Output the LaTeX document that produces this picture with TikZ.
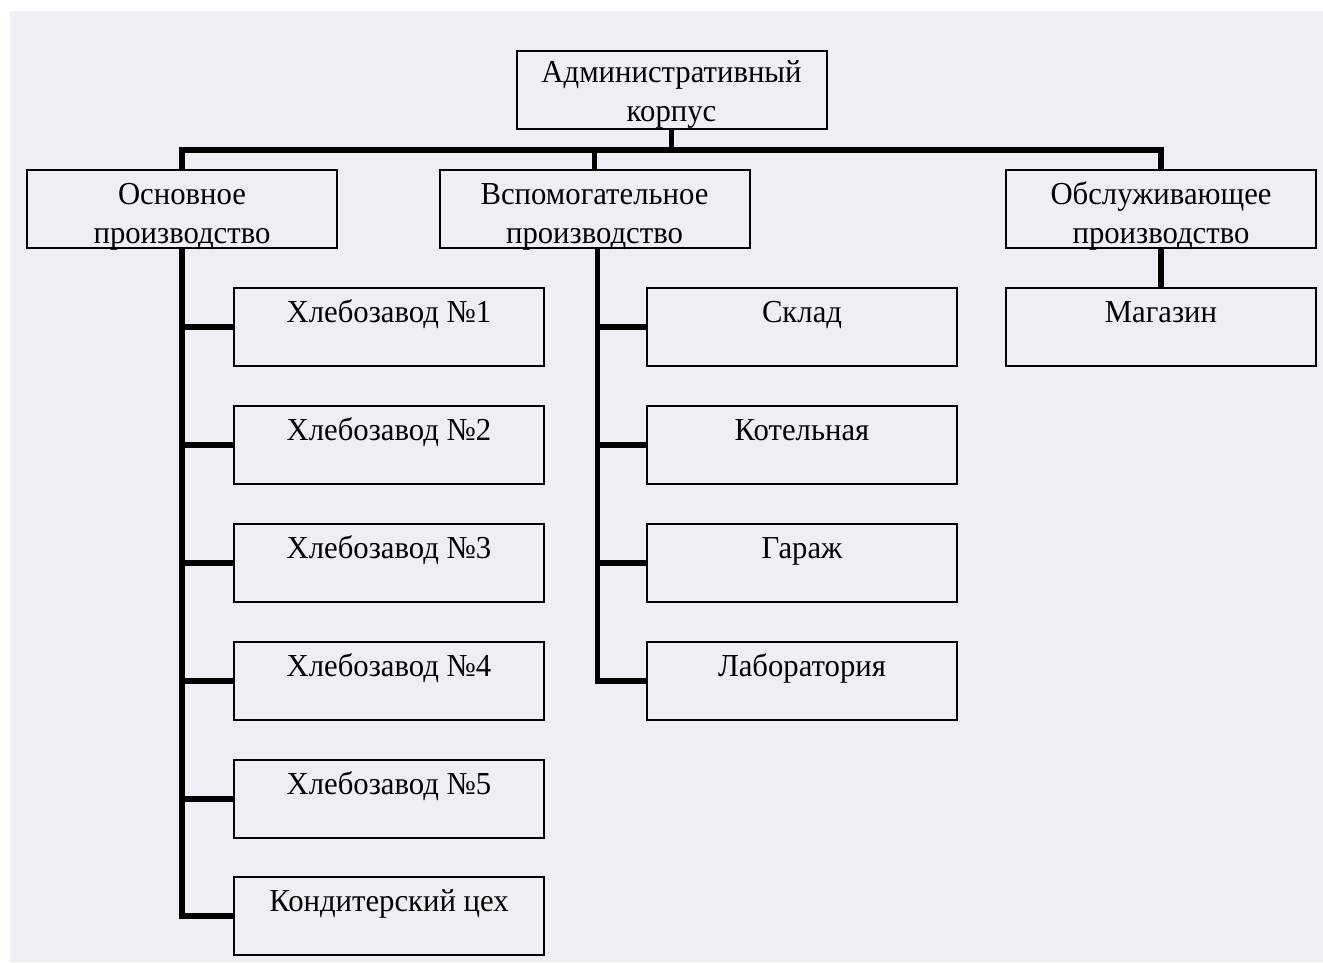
\documentclass[tikz,border=0pt]{standalone}
\usepackage{fontspec}
\setmainfont{Liberation Serif}[FakeStretch=0.96]
\usetikzlibrary{calc}
\definecolor{paper}{RGB}{238,238,245}
\begin{document}
\begin{tikzpicture}[x=1pt,y=-1pt,
  box/.style={draw=black, line width=2pt, minimum width=310pt, minimum height=78pt, inner sep=0pt, outer sep=0pt},
  lbl/.style={anchor=base, inner sep=0pt, font=\fontsize{32}{39}\selectfont},
  conn/.style={draw=black, line width=5.5pt}]
\useasboundingbox (0,0) rectangle (1323,962);
\fill[white] (0,0) rectangle (1323,962);
\fill[paper] (10,11) rectangle (1323,962);

% boxes
\node[box] (adm) at (671.5,90) {};
\node[box] (osn) at (182,208.5) {};
\node[box] (vsp) at (594.5,208.5) {};
\node[box] (obs) at (1161,208.5) {};

\node[box] (h1) at (389,327) {};
\node[box] (h2) at (389,445) {};
\node[box] (h3) at (389,563) {};
\node[box] (h4) at (389,681) {};
\node[box] (h5) at (389,799) {};
\node[box] (kond) at (389,916) {};

\node[box] (skl) at (802,327) {};
\node[box] (kot) at (802,445) {};
\node[box] (gar) at (802,563) {};
\node[box] (lab) at (802,681) {};

\node[box] (mag) at (1161,327) {};

% labels
\node[lbl] (tadm1) at ($(adm.north)+(0,31)$) {Административный};
\node[lbl] (tadm2) at ($(adm.north)+(0,70)$) {корпус};
\node[lbl] (tosn1) at ($(osn.north)+(0,35)$) {Основное};
\node[lbl] (tosn2) at ($(osn.north)+(0,74)$) {производство};
\node[lbl] (tvsp1) at ($(vsp.north)+(0,35)$) {Вспомогательное};
\node[lbl] (tvsp2) at ($(vsp.north)+(0,74)$) {производство};
\node[lbl] (tobs1) at ($(obs.north)+(0,35)$) {Обслуживающее};
\node[lbl] (tobs2) at ($(obs.north)+(0,74)$) {производство};

\node[lbl] (th1) at ($(h1.north)+(0,34)$) {Хлебозавод №1};
\node[lbl] (th2) at ($(h2.north)+(0,34)$) {Хлебозавод №2};
\node[lbl] (th3) at ($(h3.north)+(0,34)$) {Хлебозавод №3};
\node[lbl] (th4) at ($(h4.north)+(0,34)$) {Хлебозавод №4};
\node[lbl] (th5) at ($(h5.north)+(0,34)$) {Хлебозавод №5};
\node[lbl] (tkond) at ($(kond.north)+(0,34)$) {Кондитерский цех};

\node[lbl] (tskl) at ($(skl.north)+(0,34)$) {Склад};
\node[lbl] (tkot) at ($(kot.north)+(0,34)$) {Котельная};
\node[lbl] (tgar) at ($(gar.north)+(0,34)$) {Гараж};
\node[lbl] (tlab) at ($(lab.north)+(0,34)$) {Лаборатория};

\node[lbl] (tmag) at ($(mag.north)+(0,34)$) {Магазин};

% connectors
\coordinate (bus) at (671.5,150);
\draw[conn] (adm.south) -- (bus);
\draw[conn] (osn.north) -- (osn.north |- bus) -- (obs.north |- bus) -- (obs.north);
\draw[conn] (vsp.north |- bus) -- (vsp.north);

\draw[conn] (osn.south) |- (kond.west);
\foreach \n in {h1,h2,h3,h4,h5}
  \draw[conn] (osn.south |- \n.west) -- (\n.west);

\coordinate (vtr) at ($(vsp.south)+(3,0)$);
\draw[conn] (vtr) |- (lab.west);
\foreach \n in {skl,kot,gar}
  \draw[conn] (vtr |- \n.west) -- (\n.west);

\draw[conn] (obs.south) -- (mag.north);
\end{tikzpicture}
\end{document}
